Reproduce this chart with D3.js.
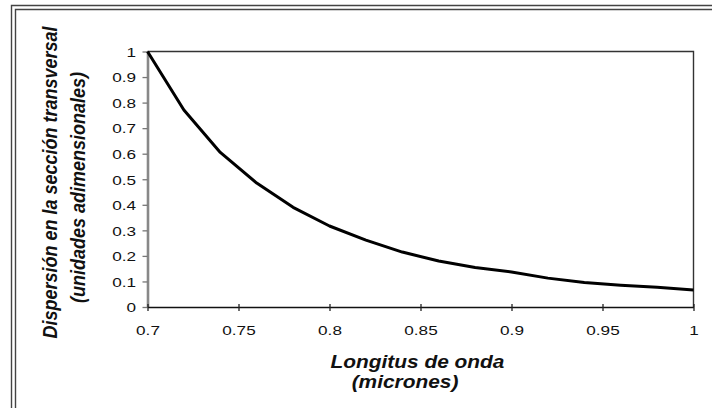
<!DOCTYPE html>
<html>
<head>
<meta charset="utf-8">
<script src="https://cdn.jsdelivr.net/npm/d3@7/dist/d3.min.js"></script>
<style>
html,body{margin:0;padding:0;background:#fff;}
svg{display:block;}
text{font-family:"Liberation Sans",Arial,sans-serif;fill:#111;}
</style>
</head>
<body>
<svg id="chart" width="712" height="408"></svg>
<script>
// Data
const wavelengths = [0.70,0.72,0.74,0.76,0.78,0.80,0.82,0.84,0.86,0.88,0.90,0.92,0.94,0.96,0.98,1.00];
const scattering  = [1.00,0.771,0.605,0.485,0.39,0.317,0.262,0.215,0.18,0.155,0.137,0.113,0.096,0.085,0.077,0.067];
const xTickValues = [0.7,0.75,0.8,0.85,0.9,0.95,1];
const xTickLabels = ["0.7","0.75","0.8","0.85","0.9","0.95","1"];
const yTickValues = [0,0.1,0.2,0.3,0.4,0.5,0.6,0.7,0.8,0.9,1];
const yTickLabels = ["0","0.1","0.2","0.3","0.4","0.5","0.6","0.7","0.8","0.9","1"];
const xTitle = ["Longitus de onda","(micrones)"];
const yTitle = ["Dispersión en la sección transversal","(unidades adimensionales)"];

const svg = d3.select("#chart");
const W = 712, H = 408;
const plot = {left:147.5, right:693.5, top:51.5, bottom:307};
const SX = 1.22; // horizontal stretch of text in the original

// outer double frame
const frame = svg.append("g").attr("fill","none").attr("stroke","#444").attr("stroke-width",1.4);
frame.append("path").attr("d",`M11.5,${H} V5.5 H${W}`);
frame.append("path").attr("d",`M15.5,${H} V9.5 H${W}`);

const x = d3.scaleLinear().domain([0.7,1]).range([plot.left,plot.right]);
const y = d3.scaleLinear().domain([0,1]).range([plot.bottom,plot.top]);

// plot box top and right
svg.append("path")
  .attr("d",`M${plot.left},${plot.top} H${plot.right} V${plot.bottom}`)
  .attr("fill","none").attr("stroke","#333").attr("stroke-width",1.4);

// Y axis
const yAxis = svg.append("g").attr("transform",`translate(${plot.left},0)`)
  .call(d3.axisLeft(y).tickValues(yTickValues)
        .tickFormat((d,i)=>yTickLabels[i]).tickSize(5).tickSizeOuter(0));
yAxis.select(".domain").attr("stroke","#888").attr("stroke-width",2.6);
yAxis.selectAll(".tick line").attr("stroke","#777").attr("stroke-width",1.3);
yAxis.selectAll(".tick text")
  .attr("x",null).attr("dy",null).attr("fill","#2a2a2a")
  .style("font-size","13.5px")
  .attr("transform",`translate(-11.5,4.8) scale(${SX+0.05},1)`)
  .attr("text-anchor","end");

// X axis
const xAxis = svg.append("g").attr("transform",`translate(0,${plot.bottom})`)
  .call(d3.axisBottom(x).tickValues(xTickValues)
        .tickFormat((d,i)=>xTickLabels[i]).tickSize(4).tickSizeOuter(0));
xAxis.select(".domain").attr("stroke","#111").attr("stroke-width",1.5);
xAxis.selectAll(".tick line").attr("stroke","#222").attr("stroke-width",1.3).attr("y1",-3).attr("y2",4);
xAxis.selectAll(".tick text")
  .attr("y",null).attr("dy",null).attr("fill","#2a2a2a")
  .style("font-size","13.5px")
  .attr("transform",`translate(0,28) scale(${SX+0.05},1)`)
  .attr("text-anchor","middle");

// curve
const line = d3.line().x((d,i)=>x(wavelengths[i])).y(d=>y(d));
svg.append("path").datum(scattering)
  .attr("d",line).attr("fill","none").attr("stroke","#000")
  .attr("stroke-width",3).attr("stroke-linejoin","round");

// X title
const xt = [{t:xTitle[0],x:417.5,y:368},{t:xTitle[1],x:405,y:388}];
svg.selectAll("text.xt").data(xt).enter().append("text").attr("class","xt")
  .attr("transform",d=>`translate(${d.x},${d.y}) scale(${SX-0.06},1)`)
  .attr("text-anchor","middle")
  .style("font-size","18px").style("font-weight","bold").style("font-style","italic")
  .text(d=>d.t);

// Y title
const yt = [{t:yTitle[0],x:56.5,y:182.5},{t:yTitle[1],x:85.4,y:187.5}];
svg.selectAll("text.yt").data(yt).enter().append("text").attr("class","yt")
  .attr("transform",d=>`translate(${d.x},${d.y}) scale(${SX-0.06},1) rotate(-90)`)
  .attr("text-anchor","middle")
  .style("font-size","18px").style("font-weight","bold").style("font-style","italic")
  .text(d=>d.t);
</script>
</body>
</html>
